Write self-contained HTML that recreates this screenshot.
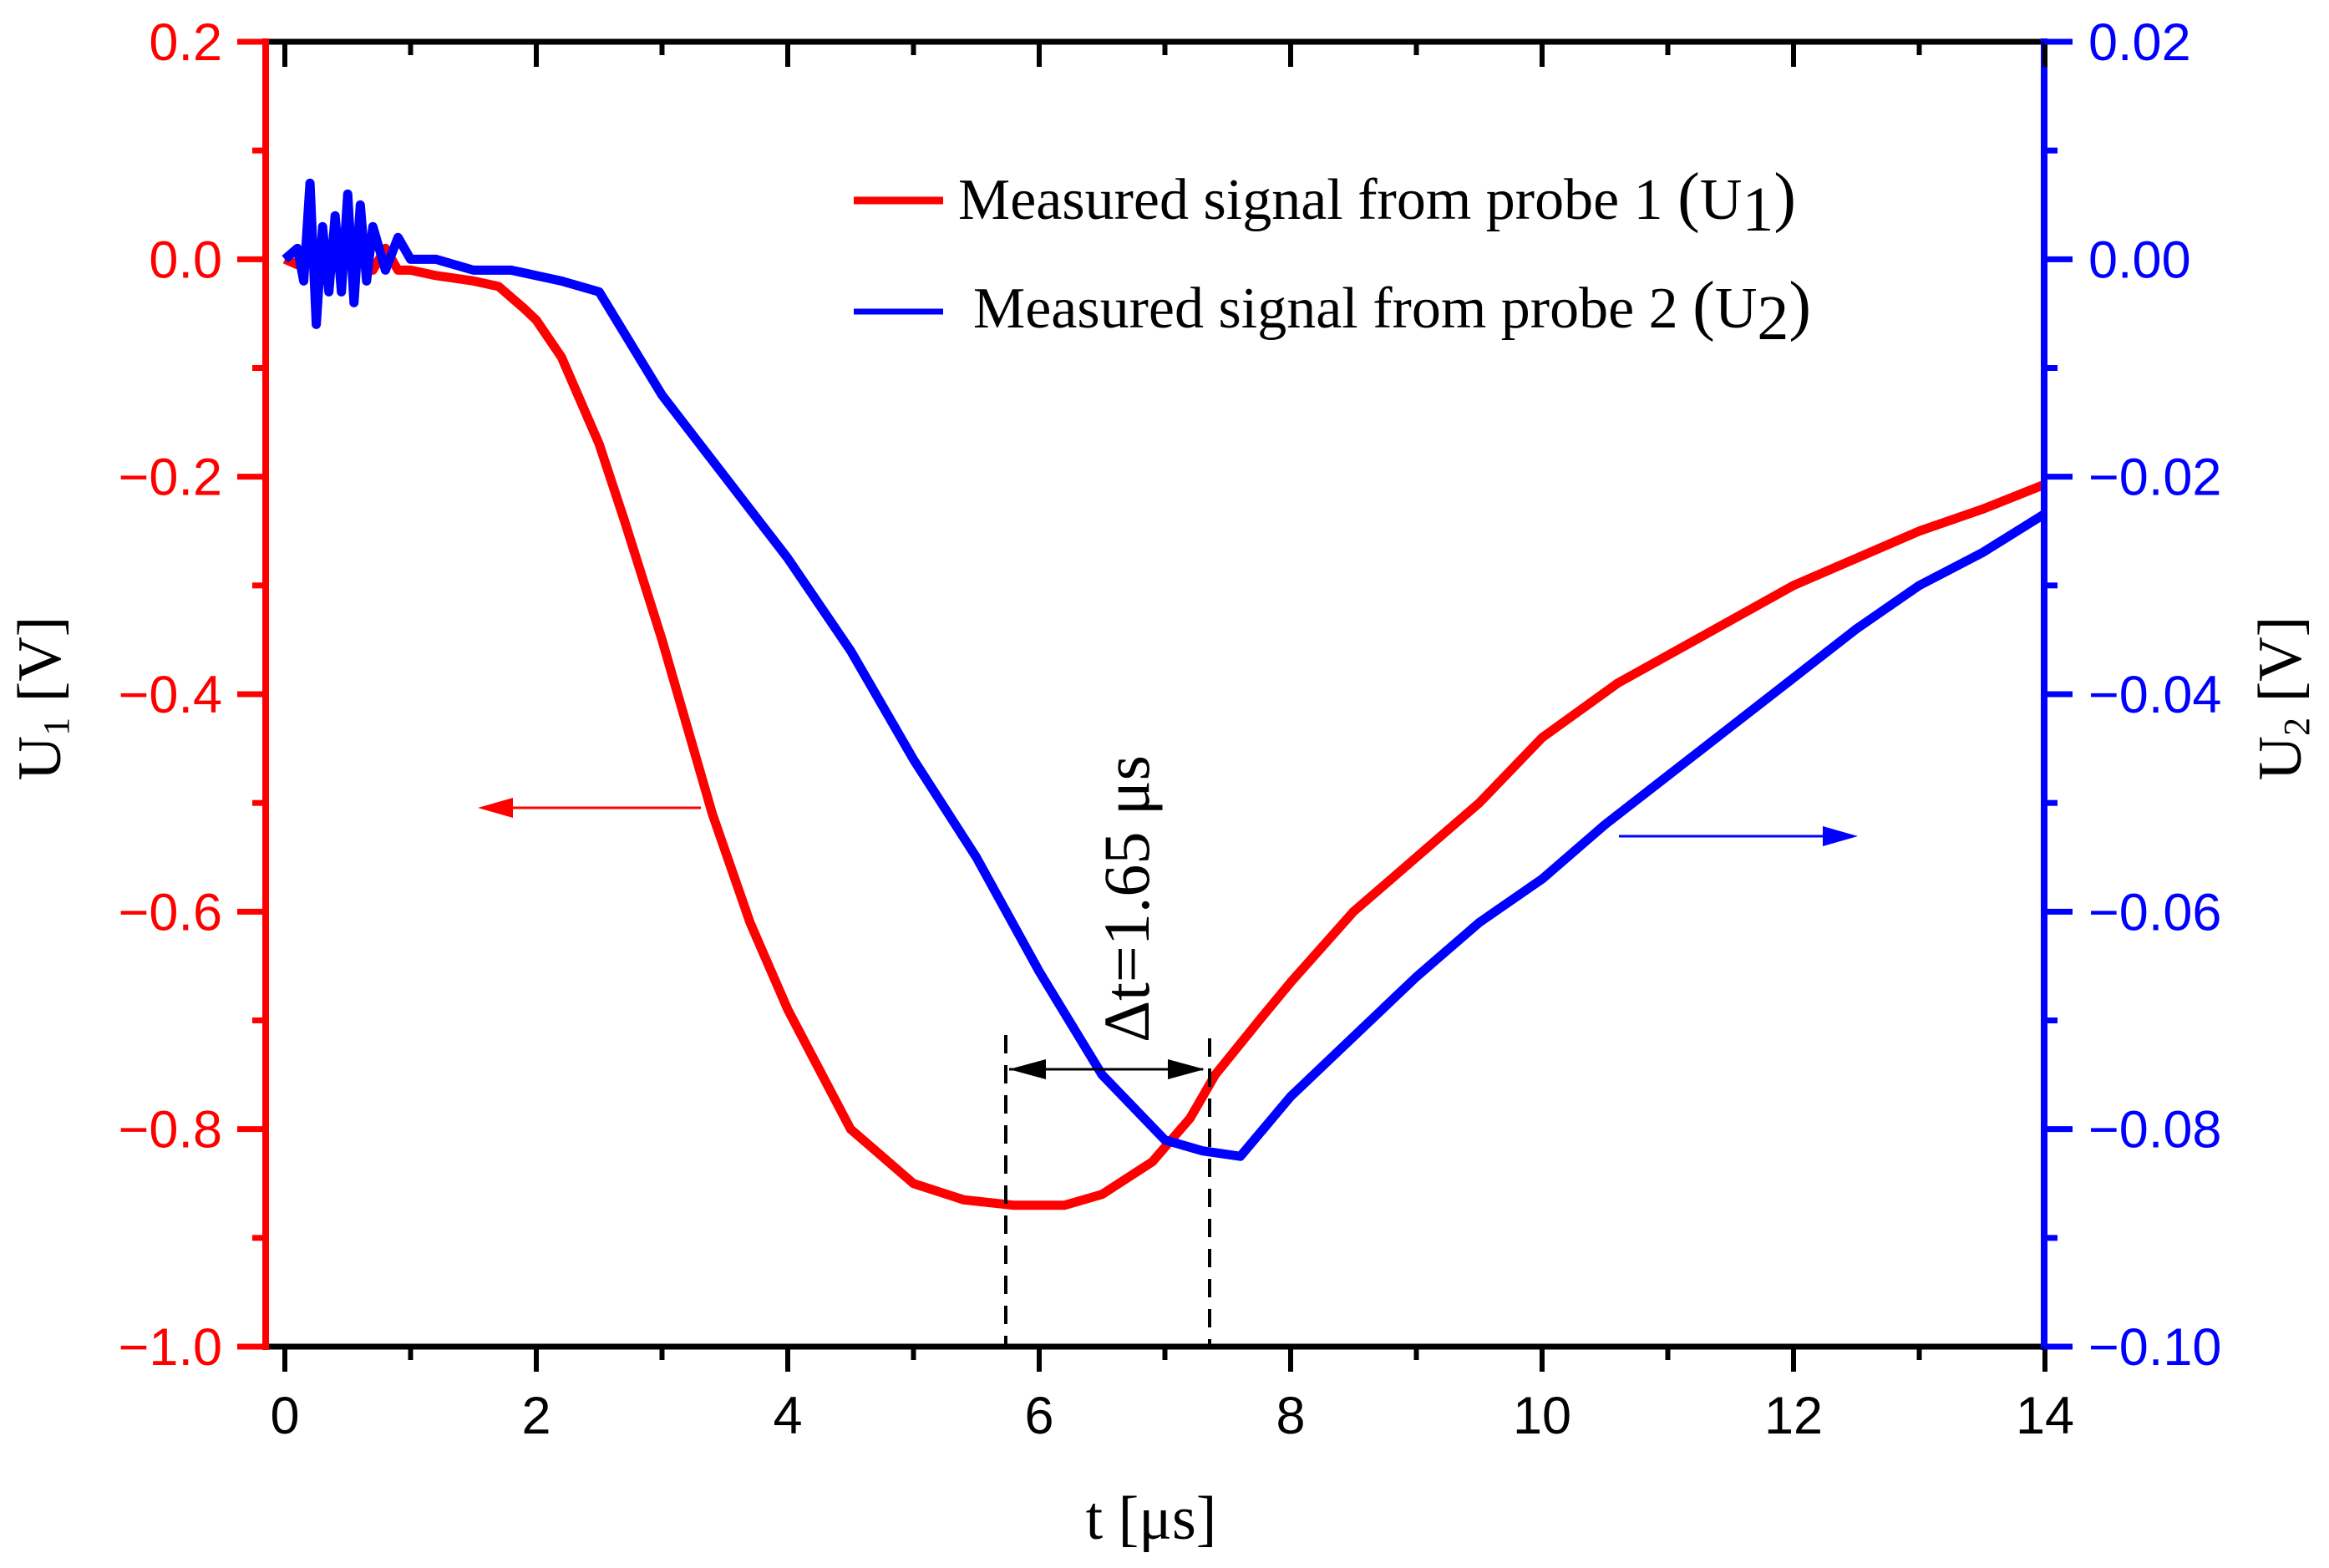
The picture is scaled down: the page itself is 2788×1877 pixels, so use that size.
<!DOCTYPE html>
<html><head><meta charset="utf-8"><style>
html,body{margin:0;padding:0;background:#fff}
svg{display:block}
.tk{font-family:"Liberation Sans",Arial,sans-serif;font-size:63px}
.tm{font-family:"Liberation Serif","Times New Roman",serif}
</style></head><body>
<svg id="chart" width="2788" height="1877" viewBox="0 0 2788 1877" xmlns="http://www.w3.org/2000/svg">
<g id="plot"></g>
<g id="axes"></g>
<g>
 <line x1="1022" y1="240" x2="1129" y2="240" stroke="#ff0000" stroke-width="9"/>
 <text class="tm" x="1147" y="262" font-size="70">Measured signal from probe 1 <tspan font-size="80">(</tspan>U<tspan font-size="76" dy="14">1</tspan><tspan dy="-14" font-size="80">)</tspan></text>
 <line x1="1022" y1="373" x2="1129" y2="373" stroke="#0000ff" stroke-width="7"/>
 <text class="tm" x="1165" y="392" font-size="70">Measured signal from probe 2 <tspan font-size="80">(</tspan>U<tspan font-size="76" dy="14">2</tspan><tspan dy="-14" font-size="80">)</tspan></text>
</g>
<g>
 <line x1="839" y1="967" x2="610" y2="967" stroke="#ff0000" stroke-width="3"/>
 <polygon points="572,967 614,955 614,979" fill="#ff0000"/>
 <line x1="1938" y1="1001" x2="2185" y2="1001" stroke="#0000ff" stroke-width="3"/>
 <polygon points="2224,1001 2182,989 2182,1013" fill="#0000ff"/>
 <line x1="1204" y1="1239" x2="1204" y2="1612" stroke="#000" stroke-width="4" stroke-dasharray="22,14"/>
 <line x1="1448" y1="1243" x2="1448" y2="1612" stroke="#000" stroke-width="4" stroke-dasharray="22,14"/>
 <line x1="1208" y1="1280" x2="1440" y2="1280" stroke="#000" stroke-width="3"/>
 <polygon points="1208,1280 1252,1268 1252,1292" fill="#000"/>
 <polygon points="1442,1280 1398,1268 1398,1292" fill="#000"/>
 <text class="tm" font-size="78" text-anchor="middle" transform="translate(1375,1076) rotate(-90)">Δt=1.65 μs</text>
</g>
<text class="tm" x="1378" y="1842" font-size="74" text-anchor="middle">t [μs]</text>
<text class="tm" font-size="74" text-anchor="middle" transform="translate(72,836) rotate(-90)">U<tspan font-size="44" dy="10">1</tspan><tspan dy="-10"> [V]</tspan></text>
<text class="tm" font-size="74" text-anchor="middle" transform="translate(2754,836) rotate(-90)">U<tspan font-size="44" dy="10">2</tspan><tspan dy="-10"> [V]</tspan></text>
</svg>
<script>
const t1 = [0,0.1,0.2,0.3,0.4,0.5,0.6,0.7,0.8,0.9,1.0,1.2,1.5,1.7,1.9,2.0,2.2,2.5,2.7,3.0,3.2,3.4,3.7,4.0,4.5,5.0,5.4,5.8,6.2,6.5,6.9,7.2,7.4,7.75,8.0,8.5,9.0,9.5,10.0,10.6,11.3,12.0,12.5,13.0,13.5,14.0];
const u1 = [0,-0.005,0.005,-0.01,0.01,-0.005,0.015,-0.01,0.01,-0.01,-0.01,-0.015,-0.02,-0.025,-0.045,-0.056,-0.09,-0.17,-0.24,-0.35,-0.43,-0.51,-0.61,-0.69,-0.8,-0.85,-0.865,-0.87,-0.87,-0.86,-0.83,-0.79,-0.75,-0.7,-0.665,-0.6,-0.55,-0.5,-0.44,-0.39,-0.345,-0.30,-0.275,-0.25,-0.23,-0.207];
const t2 = [0,0.1,0.15,0.2,0.25,0.3,0.35,0.4,0.45,0.5,0.55,0.6,0.65,0.7,0.8,0.9,1.0,1.2,1.5,1.8,2.2,2.5,3.0,3.5,4.0,4.5,5.0,5.5,6.0,6.5,7.0,7.3,7.6,8.0,8.5,9.0,9.5,10.0,10.5,11.0,11.5,12.0,12.5,13.0,13.5,14.0];
const u2 = [0,0.001,-0.002,0.007,-0.006,0.003,-0.003,0.004,-0.003,0.006,-0.004,0.005,-0.002,0.003,-0.001,0.002,0,0,-0.001,-0.001,-0.002,-0.003,-0.0125,-0.02,-0.0275,-0.036,-0.046,-0.055,-0.0655,-0.075,-0.081,-0.082,-0.0825,-0.077,-0.0715,-0.066,-0.061,-0.057,-0.052,-0.0475,-0.043,-0.0385,-0.034,-0.03,-0.027,-0.0234];
const xTicks = [0,2,4,6,8,10,12,14];
const y1Ticks = ["0.2","0.0","−0.2","−0.4","−0.6","−0.8","−1.0"];
const y2Ticks = ["0.02","0.00","−0.02","−0.04","−0.06","−0.08","−0.10"];

const X0=341, XS=150.5, YT=50, YB=1612, AL=318, AR=2447;
const sx = t => X0 + t*XS;
const sy1 = v => YT + (0.2 - v)/1.2*(YB-YT);
const sy2 = v => YT + (0.02 - v)/0.12*(YB-YT);
const NS='http://www.w3.org/2000/svg';
function mk(tag, attrs, parent){const e=document.createElementNS(NS,tag);for(const k in attrs)e.setAttribute(k,attrs[k]);parent.appendChild(e);return e;}
const plot=document.getElementById('plot'), axes=document.getElementById('axes');

const p1 = mk('polyline',{points:t1.map((t,i)=>sx(t)+','+sy1(u1[i])).join(' '),fill:'none',stroke:'#ff0000','stroke-width':11,'stroke-linejoin':'round'},plot);


const p2 = mk('polyline',{points:t2.map((t,i)=>sx(t)+','+sy2(u2[i])).join(' '),fill:'none',stroke:'#0000ff','stroke-width':11,'stroke-linejoin':'round'},plot);



let l;
l=mk('line',{x1:AL,y1:YT,x2:AR,y2:YT,stroke:'#000','stroke-width':7},axes);
 
l=mk('line',{x1:AL,y1:YB,x2:AR,y2:YB,stroke:'#000','stroke-width':7},axes);
 
l=mk('line',{x1:AL,y1:YT-4,x2:AL,y2:YB+4,stroke:'#ff0000','stroke-width':8},axes);
 
l=mk('line',{x1:AR,y1:YT-4,x2:AR,y2:YB+4,stroke:'#0000ff','stroke-width':8},axes);
 

xTicks.forEach((t,i)=>{
  const x=sx(t);
  mk('line',{x1:x,y1:YB,x2:x,y2:YB+30,stroke:'#000','stroke-width':6},axes);
  mk('line',{x1:x,y1:YT,x2:x,y2:YT+30,stroke:'#000','stroke-width':6},axes);
  if(i<xTicks.length-1){const xm=sx(t+1);
    mk('line',{x1:xm,y1:YB,x2:xm,y2:YB+16,stroke:'#000','stroke-width':6},axes);
    mk('line',{x1:xm,y1:YT,x2:xm,y2:YT+16,stroke:'#000','stroke-width':6},axes);}
  const tx=mk('text',{x:x,y:1716,'text-anchor':'middle','class':'tk',fill:'#000'},axes);
  tx.textContent=t;
  
  
});
y1Ticks.forEach((s,i)=>{
  const y=YT+i*(YB-YT)/6;
  mk('line',{x1:AL-34,y1:y,x2:AL,y2:y,stroke:'#ff0000','stroke-width':7},axes);
  if(i<6){const ym=y+(YB-YT)/12; mk('line',{x1:AL-16,y1:ym,x2:AL,y2:ym,stroke:'#ff0000','stroke-width':7},axes);}
  const tx=mk('text',{x:266,y:y+22,'text-anchor':'end','class':'tk',fill:'#ff0000'},axes);
  tx.textContent=s;
  
  
});
y2Ticks.forEach((s,i)=>{
  const y=YT+i*(YB-YT)/6;
  mk('line',{x1:AR,y1:y,x2:AR+34,y2:y,stroke:'#0000ff','stroke-width':7},axes);
  if(i<6){const ym=y+(YB-YT)/12; mk('line',{x1:AR,y1:ym,x2:AR+16,y2:ym,stroke:'#0000ff','stroke-width':7},axes);}
  const tx=mk('text',{x:2500,y:y+22,'text-anchor':'start','class':'tk',fill:'#0000ff'},axes);
  tx.textContent=s;
  
  
});
</script>
</body></html>
